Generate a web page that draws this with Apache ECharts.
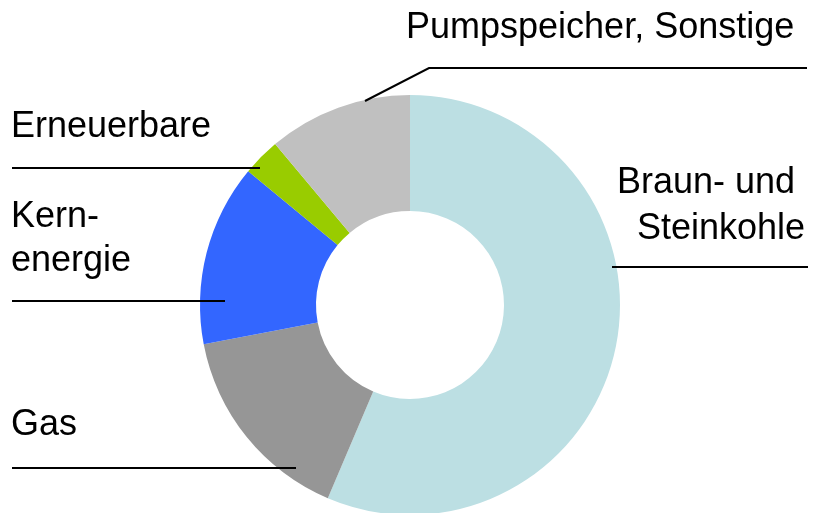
<!DOCTYPE html>
<html>
<head>
<meta charset="utf-8">
<title>Stromerzeugung nach Energieträgern</title>
<script src="https://cdn.jsdelivr.net/npm/echarts@6/dist/echarts.min.js"></script>
<style>
  html, body { margin: 0; padding: 0; background: #ffffff; }
  #chart { width: 813px; height: 513px; }
</style>
</head>
<body>
<div id="chart"></div>
<script>
// Anteile der Energieträger (%), im Uhrzeigersinn ab 12 Uhr
const categories = ['Braun- und \nSteinkohle', 'Gas', 'Kern-\nenergie', 'Erneuerbare', 'Pumpspeicher, Sonstige'];
const shares = [56.4, 15.6, 14.0, 2.9, 11.1];
const colors = ['#BCDFE3', '#969696', '#3366FF', '#99CC00', '#C0C0C0'];

// Platzierung der Beschriftungen und ihrer Führungslinien (Pixel)
const labelPlacement = [
  { x: 805, y: 206, align: 'right', lineHeight: 46, line: [[612, 267], [700, 267], [808, 267]] },
  { x: 11,  y: 425, align: 'left',  lineHeight: 44, line: [[296, 468], [150, 468], [12, 468]] },
  { x: 11,  y: 239, align: 'left',  lineHeight: 44, line: [[225, 301], [118, 301], [12, 301]] },
  { x: 11,  y: 127, align: 'left',  lineHeight: 44, line: [[260, 168], [136, 168], [12, 168]] },
  { x: 406, y: 28,  align: 'left',  lineHeight: 44, line: [[365, 101], [429, 68], [807, 68]] }
];

const ring = {
  type: 'pie',
  center: [410, 305],
  radius: [94, 210],
  startAngle: 90,
  clockwise: true,
  avoidLabelOverlap: false,
  silent: true
};

const chart = echarts.init(document.getElementById('chart'), null, { renderer: 'canvas' });

chart.setOption({
  animation: false,
  backgroundColor: '#ffffff',
  series: [
    // farbiger Ring
    Object.assign({}, ring, {
      z: 2,
      itemStyle: { borderWidth: 0 },
      label: { show: false },
      labelLine: { show: false },
      data: categories.map((name, i) => ({
        name: name,
        value: shares[i],
        itemStyle: { color: colors[i] }
      }))
    }),
    // Beschriftungen mit Führungslinien, über dem Ring gezeichnet
    Object.assign({}, ring, {
      z: 3,
      itemStyle: { color: 'rgba(0,0,0,0)', borderWidth: 0 },
      label: {
        show: true,
        position: 'outside',
        formatter: '{b}',
        color: '#000000',
        opacity: 1,
        fontFamily: 'Liberation Sans, Arial, sans-serif',
        fontSize: 36
      },
      labelLine: {
        show: true,
        smooth: false,
        lineStyle: { color: '#000000', width: 2, opacity: 1 }
      },
      labelLayout: function (params) {
        const p = labelPlacement[params.dataIndex];
        return {
          x: p.x,
          y: p.y,
          align: p.align,
          verticalAlign: 'middle',
          labelLinePoints: p.line
        };
      },
      data: categories.map((name, i) => ({
        name: name,
        value: shares[i],
        label: { lineHeight: labelPlacement[i].lineHeight, align: labelPlacement[i].align }
      }))
    })
  ]
});
</script>
</body>
</html>
